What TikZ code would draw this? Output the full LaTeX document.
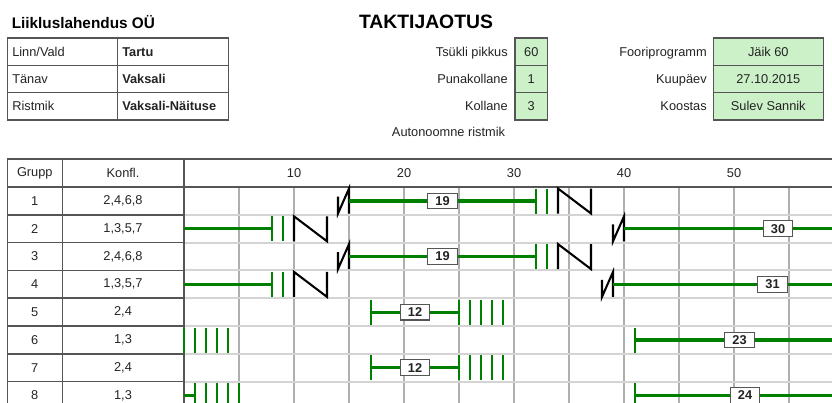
\documentclass[tikz,border=0pt]{standalone}
\usepackage{fontspec}
\setmainfont{Liberation Sans}
\definecolor{sig}{RGB}{0,128,0}
\definecolor{boxg}{RGB}{204,240,200}
\definecolor{dk}{RGB}{85,85,85}
\definecolor{ink}{RGB}{35,35,35}
\definecolor{gridv}{RGB}{175,175,175}
\definecolor{gridh}{RGB}{212,212,212}
\newcommand{\tx}[1]{184+11*(#1)}
\newcommand{\rtop}[1]{188.5+27.8*(#1-1)}
\newcommand{\rbot}[1]{213.5+27.8*(#1-1)}
\newcommand{\rmid}[1]{200.9+27.8*(#1-1)}
\newcommand{\sigH}[3]{\draw[sigline] ({\tx{#2}},{\rmid{#1}}) -- ({\tx{#3}},{\rmid{#1}});}
\newcommand{\sigT}[2]{\draw[sigtick] ({\tx{#2}},{\rtop{#1}}) -- ({\tx{#2}},{\rbot{#1}});}
\newcommand{\yelN}[3]{\draw[ylw] ({\tx{#2}},{\rbot{#1}}) -- ({\tx{#2}},{\rtop{#1}}) -- ({\tx{#3}},{\rbot{#1}}) -- ({\tx{#3}},{\rtop{#1}});}
\newcommand{\redI}[3]{\draw[ylw] ({\tx{#2}},{\rtop{#1}+8}) -- ({\tx{#2}},{\rbot{#1}}) -- ({\tx{#3}},{\rtop{#1}}) -- ({\tx{#3}},{\rbot{#1}});}
\begin{document}
\begin{tikzpicture}[x=0.75pt,y=-0.75pt,
  every node/.style={text=ink},
  txt/.style={font=\fontsize{9.6}{11}\selectfont, inner sep=0pt},
  btxt/.style={font=\fontsize{9.6}{11}\selectfont\bfseries, inner sep=0pt},
  tline/.style={draw=dk, line width=1.1pt},
  gridvl/.style={draw=gridv, line width=1.1pt},
  gridhl/.style={draw=gridh, line width=1.5pt},
  sigline/.style={draw=sig, line width=2.4pt},
  sigtick/.style={draw=sig, line width=1.9pt},
  ylw/.style={draw=black, line width=1.55pt, line join=miter},
  gbox/.style={draw=dk, fill=boxg, line width=1pt, inner sep=0pt, font=\fontsize{9.6}{11}\selectfont, minimum height=20.5pt},
  lbl/.style={draw=dk, fill=white, line width=0.8pt, inner sep=0pt, minimum width=22pt, minimum height=11.8pt, font=\fontsize{9.6}{11}\selectfont\bfseries}
]
\useasboundingbox (0,0) rectangle (832,403);
\clip (0,0) rectangle (832,403);

% ---------- header texts ----------
\node[anchor=base west, inner sep=0pt, font=\fontsize{11.5}{13}\selectfont\bfseries, text=black] (firm) at (11.5,28.3) {Liikluslahendus OÜ};
\node[anchor=base, inner sep=0pt, font=\fontsize{14.5}{16}\selectfont\bfseries, text=black] (title) at (426,28.3) {TAKTIJAOTUS};

% ---------- left info table ----------
\draw[tline] (7.3,38) rectangle (228.3,120);
\draw[tline] (117.3,38) -- (117.3,120);
\draw[tline] (7.3,65.3) -- (228.3,65.3);
\draw[tline] (7.3,92.6) -- (228.3,92.6);
\node[txt, anchor=base west] (k1) at (12,56.2) {Linn/Vald};
\node[txt, anchor=base west] (k2) at (12,83.5) {Tänav};
\node[txt, anchor=base west] (k3) at (12,110.8) {Ristmik};
\node[btxt, anchor=base west] (v1) at (122,56.2) {Tartu};
\node[btxt, anchor=base west] (v2) at (122,83.5) {Vaksali};
\node[btxt, anchor=base west] (v3) at (122,110.8) {Vaksali-Näituse};

% ---------- middle info ----------
\node[txt, anchor=base east] (m1) at (508,56.2) {Tsükli pikkus};
\node[txt, anchor=base east] (m2) at (508,83.5) {Punakollane};
\node[txt, anchor=base east] (m3) at (508,110.8) {Kollane};
\node[gbox, minimum width=24.5pt] (mb1) at (531.3,51.65) {60};
\node[gbox, minimum width=24.5pt] (mb2) at (531.3,78.95) {1};
\node[gbox, minimum width=24.5pt] (mb3) at (531.3,106.3) {3};
\node[txt, anchor=base west] (auto) at (391.7,136.5) {Autonoomne ristmik};

% ---------- right info ----------
\node[txt, anchor=base east] (r1) at (707,56.2) {Fooriprogramm};
\node[txt, anchor=base east] (r2) at (707,83.5) {Kuupäev};
\node[txt, anchor=base east] (r3) at (707,110.8) {Koostas};
\node[gbox, minimum width=82.5pt] (rb1) at (768.3,51.65) {Jäik 60};
\node[gbox, minimum width=82.5pt] (rb2) at (768.3,78.95) {27.10.2015};
\node[gbox, minimum width=82.5pt] (rb3) at (768.3,106.3) {Sulev Sannik};

% ---------- timing grid ----------
\foreach \t in {5,10,...,55} \draw[gridvl] ({\tx{\t}},187) -- ({\tx{\t}},410);
\foreach \r in {1,...,7} \draw[gridhl] (184,{187+27.8*\r}) -- (832,{187+27.8*\r});
\foreach \r in {1,...,7} \draw[tline] (7.3,{187+27.8*\r}) -- (184,{187+27.8*\r});
\draw[tline] (7.3,159) -- (832,159);
\draw[tline] (7.3,187) -- (832,187);
\draw[tline] (7.3,159) -- (7.3,410);
\draw[tline] (62.3,159) -- (62.3,410);
\draw[tline] (184,159) -- (184,410);

% header row
\node[txt] (hg) at (34.8,173) {Grupp};
\node[txt] (hk) at (123,173) {Konfl.};
\foreach \t in {10,20,30,40,50} \node[txt] (tick\t) at ({\tx{\t}},173) {\t};

% group rows
\foreach \g/\k [count=\r] in {1/{2,4,6,8},2/{1,3,5,7},3/{2,4,6,8},4/{1,3,5,7},5/{2,4},6/{1,3},7/{2,4},8/{1,3}} {
  \node[txt] (g\r) at (34.8,{\rmid{\r}}) {\g};
  \node[txt] (c\r) at (123,{\rmid{\r}}) {\k};
}

% ---------- signals ----------
% group 1 and 3
\foreach \r in {1,3} {
  \redI{\r}{14}{15}
  \sigH{\r}{15}{32}
  \sigT{\r}{32}
  \sigT{\r}{33}
  \yelN{\r}{34}{37}
}
% group 2 and 4
\foreach \r in {2,4} {
  \sigH{\r}{0}{8}
  \sigT{\r}{8}
  \sigT{\r}{9}
  \yelN{\r}{10}{13}
}
\redI{2}{39}{40}
\sigH{2}{40}{60}
\redI{4}{38}{39}
\sigH{4}{39}{60}
% group 5 and 7
\foreach \r in {5,7} {
  \sigT{\r}{17}
  \sigH{\r}{17}{25}
  \sigT{\r}{25}
  \foreach \b in {26,27,28,29} {\sigT{\r}{\b}}
}
% group 6
\foreach \b in {0,1,2,3,4} {\sigT{6}{\b}}
\sigT{6}{41}
\sigH{6}{41}{60}
% group 8
\sigH{8}{0}{1}
\foreach \b in {1,2,3,4,5} {\sigT{8}{\b}}
\sigT{8}{41}
\sigH{8}{41}{60}

% ---------- green time labels ----------
\node[lbl] (l1) at ({\tx{23.5}},{\rmid{1}}) {19};
\node[lbl] (l3) at ({\tx{23.5}},{\rmid{3}}) {19};
\node[lbl] (l2) at ({\tx{54}},{\rmid{2}}) {30};
\node[lbl] (l4) at ({\tx{53.5}},{\rmid{4}}) {31};
\node[lbl] (l5) at ({\tx{21}},{\rmid{5}}) {12};
\node[lbl] (l7) at ({\tx{21}},{\rmid{7}}) {12};
\node[lbl] (l6) at ({\tx{50.5}},{\rmid{6}}) {23};
\node[lbl] (l8) at ({\tx{51}},{\rmid{8}}) {24};
\end{tikzpicture}
\end{document}
